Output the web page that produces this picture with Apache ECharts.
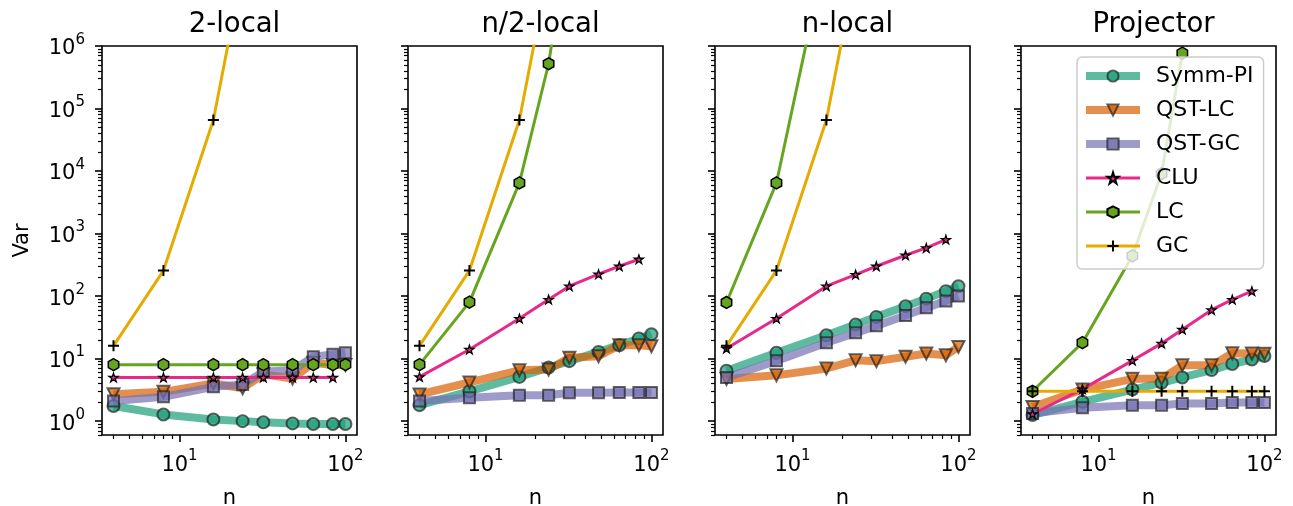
<!DOCTYPE html>
<html>
<head>
<meta charset="utf-8">
<script src="https://cdn.jsdelivr.net/npm/echarts@6/dist/echarts.min.js"></script>
<style>
  html, body { margin: 0; padding: 0; background: #fff; }
  #main { width: 1293px; height: 506px; }
</style>
</head>
<body>
<div id="main"></div>
<script>
var nVals = [4, 8, 16, 24, 32, 48, 64, 84, 100];
var panelTitles = ['2-local', 'n/2-local', 'n-local', 'Projector'];
var methodNames = ['Symm-PI', 'QST-LC', 'QST-GC', 'CLU', 'LC', 'GC'];

// one row per panel: 2-local, n/2-local, n-local, Projector
var symmPI = [
  [1.75, 1.28, 1.06, 1.0, 0.96, 0.92, 0.9, 0.9, 0.9],
  [1.8, 3.0, 5.1, 7.2, 9.1, 12.8, 16.4, 21, 24.6],
  [6.4, 12.4, 23.7, 35, 46.5, 69, 91, 120, 144],
  [1.25, 2.04, 3.2, 4.1, 5.0, 6.55, 8.2, 9.7, 11.0]
];
var qstLC = [
  [2.7, 2.94, 4.0, 3.35, 5.6, 4.8, 8.6, 7.9, 7.9],
  [2.67, 4.15, 6.5, 6.7, 10.3, 10.9, 16.4, 16.4, 15.8],
  [4.7, 5.4, 6.95, 9.4, 9.1, 10.7, 12.1, 11.3, 15.4],
  [1.68, 3.2, 4.75, 4.75, 7.8, 7.8, 12.2, 12.1, 12.0]
];
var qstGC = [
  [2.09, 2.45, 3.54, 3.86, 6.15, 6.55, 10.7, 11.7, 12.4],
  [2.09, 2.36, 2.6, 2.6, 2.84, 2.84, 2.87, 2.87, 2.87],
  [5.0, 9.2, 17.9, 25.8, 33.4, 48.9, 64.8, 83.8, 100],
  [1.33, 1.63, 1.8, 1.8, 1.92, 1.92, 1.98, 1.98, 1.98]
];
var clu = [
  [5, 5, 5, 5, 5, 5, 5, 5],
  [5.1, 14, 43.7, 88, 144, 224, 300, 388],
  [14.5, 43.7, 144, 221, 300, 450, 589, 801],
  [1.3, 3.25, 9.3, 17.5, 29.2, 60, 88, 120]
];
var lc = [
  [8, 8, 8, 8, 8, 8, 8, 8, 8],
  [8, 80, 6450, 520000, 70000000],
  [79, 6450, 35000000],
  [3, 18, 440, 9100, 770000]
];
var gc = [
  [16, 256, 65536, 16777216],
  [16, 256, 65536, 16777216],
  [16, 256, 65536, 16777216],
  [3, 3, 3, 3, 3, 3, 3, 3, 3]
];

var xMajor = [10, 100];
var yMajor = [1, 10, 100, 1000, 10000, 100000, 1000000];
var minorMantissa = [2, 3, 4, 5, 6, 7, 8, 9];
var xMinor = [4, 5, 6, 7, 8, 9, 20, 30, 40, 50, 60, 70, 80, 90];
var yMinor = [0.6, 0.7, 0.8, 0.9];
yMajor.slice(0, 6).forEach(function (d) {
  minorMantissa.forEach(function (m) { yMinor.push(m * d); });
});

var font = 'DejaVu Sans';
var lefts = [102, 408, 715, 1021];
var gridW = 255, gridTop = 46, gridH = 389;
var xMin = 3.41, xMax = 117.4, yMin = 0.6, yMax = 1e6;

var starPath = 'path://M0,-10L2.245,-3.09L9.511,-3.09L3.633,1.18L5.878,8.09L0,3.82L-5.878,8.09L-3.633,1.18L-9.511,-3.09L-2.245,-3.09Z';
var hexPath = 'path://M0,-10L8.66,-5L8.66,5L0,10L-8.66,5L-8.66,-5Z';
var plusPath = 'path://M-1.8,-10L1.8,-10L1.8,-1.8L10,-1.8L10,1.8L1.8,1.8L1.8,10L-1.8,10L-1.8,1.8L-10,1.8L-10,-1.8L-1.8,-1.8Z';

var methods = [
  { name: 'Symm-PI', data: symmPI, color: '#1b9e77', symbol: 'circle', size: 12, rotate: 0, width: 8, alpha: 0.7, edge: '#222', edgeW: 2, fill: '#1b9e77' },
  { name: 'QST-LC', data: qstLC, color: '#d95f02', symbol: 'triangle', size: 12, rotate: 180, width: 8, alpha: 0.7, edge: '#222', edgeW: 2, fill: '#d95f02' },
  { name: 'QST-GC', data: qstGC, color: '#7570b3', symbol: 'rect', size: 11, rotate: 0, width: 8, alpha: 0.7, edge: '#222', edgeW: 2, fill: '#7570b3' },
  { name: 'CLU', data: clu, color: '#e7298a', symbol: starPath, size: 9, rotate: 0, width: 3, alpha: 1, edge: '#000', edgeW: 1.3, fill: '#e7298a' },
  { name: 'LC', data: lc, color: '#66a61e', symbol: hexPath, size: 12, rotate: 0, width: 3, alpha: 1, edge: '#000', edgeW: 1.5, fill: '#66a61e' },
  { name: 'GC', data: gc, color: '#e6ab02', symbol: plusPath, size: 11, rotate: 0, width: 3, alpha: 1, edge: '#000', edgeW: 0, fill: '#000' }
];

function powLabel(v) {
  return '{b|10}{s|' + Math.round(Math.log10(v)) + '}';
}
var richLabel = {
  b: { fontSize: 21, fontFamily: font, color: '#000', lineHeight: 27, verticalAlign: 'bottom' },
  s: { fontSize: 15, fontFamily: font, color: '#000', lineHeight: 15, verticalAlign: 'top' }
};
var tickMajor = { color: '#000', width: 1.6 };

var grids = [], xAxes = [], yAxes = [], series = [], titles = [];

lefts.forEach(function (left, p) {
  grids.push({ left: left, top: gridTop, width: gridW, height: gridH, show: true,
    outerBoundsMode: 'none', containLabel: false,
    borderColor: '#000', borderWidth: 1.6, backgroundColor: 'transparent' });
  titles.push({ text: panelTitles[p], left: left + gridW / 2, top: 6, textAlign: 'center',
    textStyle: { fontSize: 27.5, fontWeight: 'normal', fontFamily: font, color: '#000' } });

  xAxes.push({
    type: 'log', gridIndex: p, position: 'bottom', min: xMin, max: xMax,
    axisLine: { show: false }, splitLine: { show: false },
    axisTick: { show: true, customValues: xMajor, length: 7, lineStyle: tickMajor },
    axisLabel: { customValues: xMajor, formatter: powLabel, margin: 14, rich: richLabel },
    name: 'n', nameLocation: 'middle', nameGap: 53,
    nameTextStyle: { fontSize: 21, fontFamily: font, color: '#000' }
  });
  xAxes.push({
    type: 'log', gridIndex: p, position: 'bottom', min: xMin, max: xMax,
    axisLine: { show: false }, splitLine: { show: false }, axisLabel: { show: false },
    axisTick: { show: true, customValues: xMinor, length: 4, lineStyle: { color: '#000', width: 1.2 } }
  });
  yAxes.push({
    type: 'log', gridIndex: p, position: 'left', min: yMin, max: yMax,
    axisLine: { show: false }, splitLine: { show: false },
    axisTick: { show: true, customValues: yMajor, length: 7, lineStyle: tickMajor },
    axisLabel: { show: p === 0, customValues: yMajor, formatter: powLabel, margin: 17, rich: richLabel },
    name: p === 0 ? 'Var' : '', nameLocation: 'middle', nameGap: 69,
    nameTextStyle: { fontSize: 21, fontFamily: font, color: '#000' }
  });
  yAxes.push({
    type: 'log', gridIndex: p, position: 'left', min: yMin, max: yMax,
    axisLine: { show: false }, splitLine: { show: false }, axisLabel: { show: false },
    axisTick: { show: true, customValues: yMinor, length: 4, lineStyle: { color: '#000', width: 1.2 } }
  });

  methods.forEach(function (m) {
    var vals = m.data[p];
    series.push({
      type: 'line', name: m.name, xAxisIndex: 2 * p, yAxisIndex: 2 * p,
      data: vals.map(function (v, i) { return [nVals[i], v]; }),
      color: m.color,
      symbol: m.symbol, symbolSize: m.size, symbolRotate: m.rotate, symbolKeepAspect: true,
      showAllSymbol: true,
      lineStyle: { color: m.color, width: m.width, opacity: m.alpha },
      itemStyle: { color: m.fill, borderColor: m.edge, borderWidth: m.edgeW, opacity: m.alpha },
      emphasis: { disabled: true },
      clip: true
    });
  });
});

var legendData = methods.map(function (m) {
  return { name: m.name, lineStyle: { color: m.color, width: m.width, opacity: m.alpha },
    itemStyle: { opacity: m.alpha } };
});

var chart = echarts.init(document.getElementById('main'));
chart.setOption({
  animation: false,
  backgroundColor: '#fff',
  title: titles,
  grid: grids,
  xAxis: xAxes,
  yAxis: yAxes,
  legend: {
    orient: 'vertical', left: 1077, top: 57, padding: [7, 10, 11, 5],
    itemWidth: 54, itemHeight: 14, itemGap: 10, selectedMode: false,
    backgroundColor: 'rgba(255,255,255,0.8)', borderColor: '#cccccc', borderWidth: 1.5, borderRadius: 5,
    textStyle: { fontSize: 22, fontFamily: font, color: '#000', lineHeight: 24, padding: [0, 0, 0, 11] },
    data: legendData
  },
  series: series
});
</script>
</body>
</html>
